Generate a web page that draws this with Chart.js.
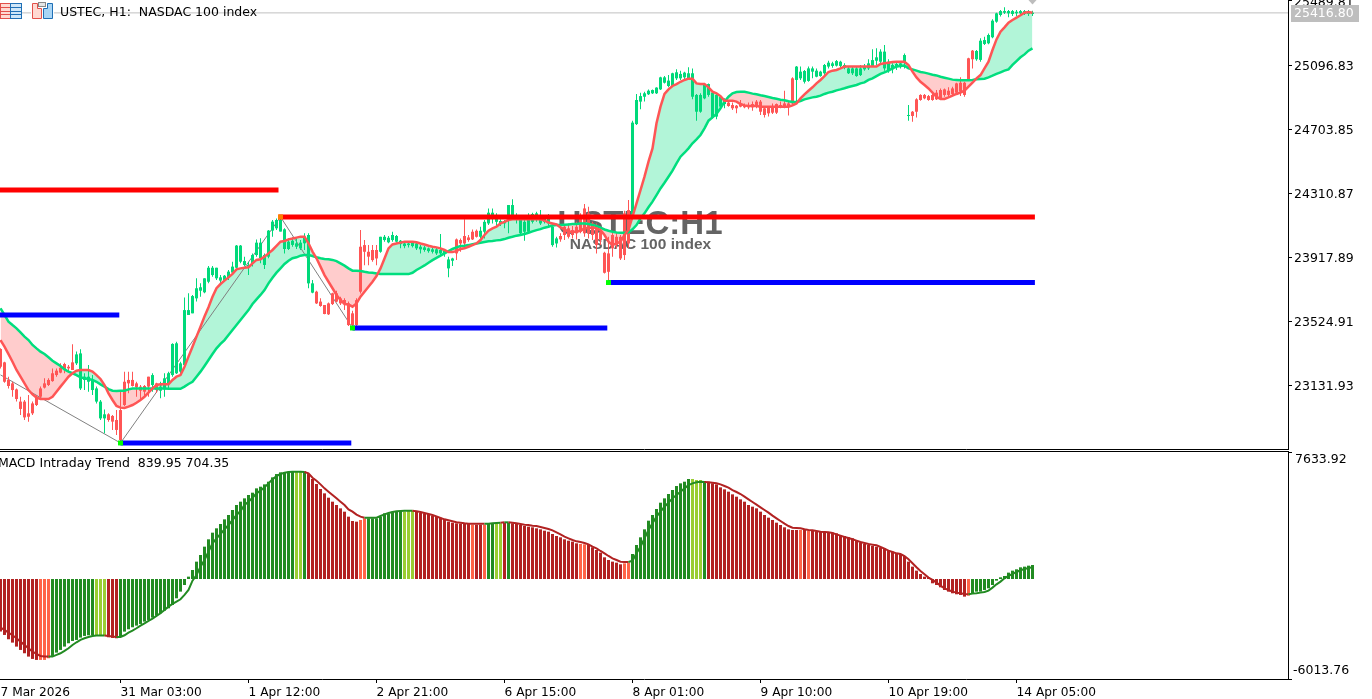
<!DOCTYPE html>
<html><head><meta charset="utf-8"><title>USTEC H1</title>
<script src="https://cdn.jsdelivr.net/npm/chart.js@4"></script>
<style>
html,body{margin:0;padding:0;background:#fff;overflow:hidden;width:1372px;height:699px}
#wrapA{position:absolute;left:0;top:0;width:1372px;height:450px}
#wrapB{position:absolute;left:0;top:451px;width:1372px;height:248px}
canvas{display:block}
</style></head><body>
<div id="wrapA"><canvas id="price" width="1372" height="450"></canvas></div>
<div id="wrapB"><canvas id="macd" width="1372" height="248"></canvas></div>
<script>
const FONT='"DejaVu Sans"';
const priceTicks=[25489.81,25096.83,24703.85,24310.87,23917.89,23524.91,23131.93];
const macdTicks=[7633.92,-6013.76];
const lastPrice=25416.80;
const timeTickBars=[0,30,62,94,126,158,190,222,254];
const timeTickLabels=['7 Mar 2026','31 Mar 03:00','1 Apr 12:00','2 Apr 21:00','6 Apr 15:00','8 Apr 01:00','9 Apr 10:00','10 Apr 19:00','14 Apr 05:00'];

const bodyHigh=[23353,23271,23163,23142,23105,23030,23030,22958,23019,23060,
23111,23142,23163,23204,23220,23238,23261,23244,23271,23320,
23326,23183,23183,23163,23111,23030,22952,22952,22942,22917,
22978,23152,23163,23163,23142,23122,23126,23183,23193,23142,
23122,23173,23204,23384,23388,23265,23592,23592,23678,23726,
23732,23787,23852,23852,23852,23793,23803,23828,23859,23988,
23988,23893,23869,23930,24006,24006,23930,24080,24135,24145,
24145,24088,24012,24018,24002,24006,24043,24053,23756,23705,
23644,23623,23633,23695,23695,23664,23654,23633,
23572,23653,23981,23991,23950,23961,23961,24042,24042,24036,24053,24047,
24018,24001,24001,24006,24001,23981,23977,23971,23965,23965,
23961,23956,23903,23909,24026,24022,24047,24038,24073,24079,
24079,24134,24190,24190,24175,24139,24134,24237,24237,24169,
24145,24134,24165,24182,24186,24155,24155,24175,24104,24032,
24047,24104,24094,24083,24104,24165,24216,24186,24124,24094,
24073,23944,23940,24053,24042,24042,24186,24206,24743,24882,
24906,24923,24939,24943,24958,25021,25021,25001,25046,25052,
25042,25050,25046,25046,24913,24913,24974,24980,24927,24913,
24902,24878,24866,24851,24847,24857,24851,24851,24857,24872,
24872,24831,24841,24841,24857,24851,24861,24861,25015,25087,
25056,25060,25076,25076,25062,25056,25097,25111,25107,25121,
25117,25097,25076,25076,25076,25076,25091,25107,25127,25144,
25179,25179,25117,25097,25103,25107,25158,24790,24810,24886,
24913,24913,24906,24913,24927,24943,24947,24939,24953,24984,
24988,24988,25138,25185,25183,25246,25250,25281,25369,25414,
25428,25428,25428,25428,25424,25428,25428,25424,25418];
const bodyLow=[23244,23152,23126,23101,23046,22985,22933,22937,22958,23009,
23060,23116,23132,23156,23193,23208,23224,23234,23224,23265,
23111,23163,23152,23101,23030,22927,22927,22917,22907,22856,
22794,23009,23142,23126,23118,23097,23091,23122,23132,23101,
23097,23105,23142,23193,23204,23214,23255,23562,23572,23664,
23711,23701,23766,23807,23787,23773,23777,23793,23822,23852,
23889,23869,23859,23879,23930,23910,23869,23920,24080,24094,
24074,23967,23967,23992,23981,23971,24002,23756,23699,23633,
23617,23568,23566,23629,23644,23633,23629,23500,
23500,23500,23705,23950,23920,23899,23909,23950,24022,24008,24022,24012,
23997,23985,23991,23985,23971,23965,23961,23954,23950,23940,
23940,23936,23848,23895,23940,24001,24001,24022,24026,24042,
24042,24073,24124,24175,24134,24120,24124,24165,24155,24145,
24063,24073,24073,24134,24155,24124,24134,24124,23991,24001,
24026,24053,24042,24053,24063,24073,24063,24063,24053,23991,
24022,23821,23827,23971,23991,23909,23930,24001,24180,24734,
24872,24902,24917,24923,24923,24947,24988,24968,24968,25015,
25015,25021,25015,24902,24810,24810,24892,24913,24775,24780,
24841,24857,24845,24831,24831,24841,24837,24837,24837,24841,
24810,24790,24800,24804,24804,24837,24837,24841,24861,25005,
25015,24994,24999,25056,25025,25029,25046,25087,25091,25093,
25091,25080,25046,25046,25029,25035,25070,25076,25091,25123,
25117,25076,25066,25070,25083,25087,25111,24784,24784,24810,
24882,24892,24882,24882,24886,24892,24913,24913,24919,24927,
24933,24913,25005,25132,25132,25128,25226,25230,25267,25363,
25404,25418,25414,25410,25414,25414,25410,25410,25410];
const wickHigh=[23357,23275,23183,23152,23111,23060,23040,23070,23030,23070,
23122,23173,23173,23234,23234,23265,23269,23255,23382,23337,
23351,23204,23255,23193,23122,23040,22982,22958,22948,22978,
23101,23214,23214,23214,23152,23132,23132,23183,23204,23146,
23152,23204,23214,23388,23398,23275,23670,23695,23685,23787,
23756,23787,23863,23863,23852,23807,23807,23838,23889,23992,
23992,23920,23889,23940,24026,24033,23940,24084,24145,24155,
24166,24094,24033,24039,24033,24022,24063,24063,23777,23711,
23664,23623,23638,23699,23711,23674,23664,23644,
23588,23664,24083,24022,23991,23991,23991,24042,24053,24047,24073,24053,
24022,24012,24012,24012,24006,23991,23985,23977,23981,23977,
24059,23961,23920,23913,24032,24032,24149,24053,24087,24087,
24104,24145,24216,24216,24186,24149,24145,24237,24272,24186,
24155,24145,24186,24190,24196,24206,24165,24182,24124,24042,
24063,24114,24124,24108,24134,24186,24243,24227,24134,24124,
24104,23950,24042,24073,24063,24053,24202,24268,24755,24919,
24927,24933,24947,24947,24960,25025,25029,25035,25050,25070,
25062,25056,25083,25076,24919,24923,24984,24984,24933,24919,
24913,24892,24872,24866,24851,24882,24861,24866,24872,24882,
24882,24841,24845,24861,24861,24872,24939,24872,25021,25091,
25087,25066,25087,25087,25076,25062,25103,25123,25117,25127,
25123,25107,25091,25087,25091,25097,25103,25132,25193,25199,
25193,25220,25132,25107,25111,25117,25168,24851,24814,24892,
24917,24919,24913,24919,24943,24953,24953,24960,24964,24988,
25021,24994,25142,25189,25189,25261,25271,25291,25377,25418,
25435,25451,25435,25435,25435,25435,25435,25435,25430];
const wickLow=[23234,23146,23111,23060,23030,22948,22917,22907,22948,23003,
23050,23111,23126,23152,23183,23204,23204,23214,23224,23255,
23101,23101,23091,23070,23019,22917,22835,22907,22856,22825,
22784,23003,23081,23122,23060,23040,23060,23060,23091,23085,
23050,23060,23111,23183,23200,23204,23244,23562,23572,23644,
23674,23695,23756,23797,23777,23756,23766,23777,23814,23848,
23879,23859,23807,23859,23920,23879,23844,23910,24043,24084,
24074,23940,23961,23981,23967,23961,23961,23726,23695,23629,
23613,23566,23562,23623,23640,23623,23592,23494,
23482,23494,23694,23868,23868,23889,23868,23944,24012,24002,24012,24006,
23971,23971,23977,23977,23961,23940,23950,23944,23940,23930,
23924,23920,23793,23862,23899,23950,23981,24012,24022,24038,
24032,24032,24114,24124,24104,24108,24094,24063,24145,24124,
24053,24018,24063,24124,24134,24114,24124,24104,23981,23977,
24012,24022,24032,24032,24026,24063,24042,24032,24022,23940,
23991,23817,23766,23920,23971,23899,23899,23971,24170,24728,
24825,24872,24913,24919,24919,24943,24984,24960,24964,25005,
25005,25009,25005,24886,24755,24804,24886,24902,24769,24763,
24831,24831,24841,24820,24800,24837,24831,24825,24816,24831,
24790,24775,24780,24796,24796,24831,24831,24786,24857,24872,
25005,24984,24994,25015,25021,25025,25035,25076,25080,25087,
25083,25070,25042,25035,25025,25029,25062,25066,25087,25097,
25097,25062,25050,25046,25066,25076,25076,24755,24749,24775,
24878,24886,24878,24878,24882,24886,24902,24902,24913,24913,
24906,24902,25001,25076,25123,25117,25220,25224,25261,25357,
25394,25410,25390,25398,25398,25410,25404,25398,25398];
const candleKey='R'.repeat(19)+'G'.repeat(8)+'R'.repeat(11)+'G'+'R'+'G'.repeat(39)+'R'.repeat(16)+'G'.repeat(19)+'R'.repeat(6)+'G'.repeat(20)+'R'.repeat(18)+'G'.repeat(24)+'R'.repeat(17)+'G'.repeat(29)+'R'.repeat(16)+'G'.repeat(15);

const fastMA=[23408,23367,23322,23275,23224,23183,23142,23101,23075,23054,
23046,23046,23046,23060,23091,23122,23152,23183,23204,23220,
23224,23224,23224,23214,23193,23169,23132,23081,23040,23003,
22993,22991,22999,23009,23023,23040,23060,23085,23111,23132,
23136,23136,23136,23163,23183,23193,23244,23306,23367,23429,
23490,23552,23609,23674,23726,23752,23773,23793,23814,23842,
23848,23852,23855,23879,23900,23904,23920,23940,23961,23986,
24012,24016,24026,24031,24037,24043,24043,24002,23951,23910,
23859,23807,23766,23726,23685,23654,23629,23627,
23613,23633,23674,23705,23735,23766,23801,23848,23909,23971,23995,24001,
24006,24012,24012,24012,24008,24001,23995,23987,23981,23977,
23971,23961,23948,23948,23954,23967,23971,23981,23991,24001,
24022,24053,24079,24094,24104,24124,24134,24145,24149,24149,
24149,24149,24149,24149,24149,24149,24141,24130,24124,24118,
24100,24087,24073,24073,24073,24079,24094,24094,24100,24094,
24083,24053,24012,23991,24001,24012,24053,24084,24165,24247,
24329,24411,24503,24585,24739,24841,24919,24947,24968,24980,
24994,25005,25013,25013,24984,24980,24980,24960,24933,24923,
24906,24878,24878,24878,24872,24857,24849,24845,24845,24845,
24841,24841,24841,24841,24841,24841,24841,24841,24849,24861,
24892,24917,24939,24960,24984,25005,25029,25054,25062,25066,
25076,25087,25087,25087,25087,25087,25087,25087,25087,25087,
25103,25107,25111,25115,25117,25117,25117,25097,25056,25021,
24994,24974,24953,24927,24902,24888,24888,24898,24909,24919,
24927,24939,24964,24988,25015,25035,25076,25117,25189,25254,
25301,25328,25357,25373,25388,25402,25418,25422,25418];
const slowMA=[23603,23562,23521,23500,23480,23455,23429,23408,23378,23357,
23337,23322,23302,23281,23265,23249,23228,23214,23204,23193,
23179,23173,23169,23163,23152,23136,23122,23107,23097,23095,
23097,23097,23105,23111,23111,23111,23111,23111,23111,23111,
23111,23111,23109,23109,23109,23109,23122,23138,23152,23183,
23214,23249,23285,23322,23357,23384,23408,23439,23470,23500,
23531,23562,23592,23629,23658,23685,23715,23756,23791,23822,
23848,23875,23895,23910,23916,23926,23930,23930,23924,23916,
23910,23906,23904,23900,23893,23879,23865,23848,
23834,23834,23832,23827,23823,23821,23817,23813,23813,23813,23813,23813,
23813,23813,23813,23821,23838,23852,23866,23883,23899,23913,
23926,23940,23954,23967,23977,23985,23987,23991,23997,24001,
24006,24010,24014,24016,24020,24022,24028,24036,24042,24049,
24053,24059,24067,24075,24083,24089,24098,24104,24112,24114,
24114,24116,24118,24120,24120,24124,24124,24120,24114,24108,
24098,24087,24079,24073,24069,24067,24067,24069,24088,24114,
24155,24186,24223,24258,24298,24339,24374,24411,24448,24493,
24534,24558,24585,24616,24640,24667,24708,24755,24775,24796,
24831,24872,24902,24923,24931,24933,24933,24927,24921,24917,
24911,24906,24900,24894,24890,24884,24880,24874,24870,24870,
24876,24886,24892,24898,24902,24909,24919,24927,24933,24941,
24947,24954,24962,24968,24974,24984,24990,25005,25015,25029,
25042,25052,25062,25076,25087,25091,25093,25076,25070,25062,
25054,25050,25044,25037,25033,25025,25019,25013,25007,25005,
25003,25003,25003,25005,25009,25011,25013,25021,25031,25042,
25052,25062,25070,25097,25121,25144,25162,25185,25199];

const redLevel1=24329, redLevel2=24164, blueLevel1=23562, blueLevel2=22776, blueLevel3=23482, blueLevel4=23761;
const zigzagBars=[0,30,70,88];
const zigzagValues=[23194,22776,24164,23482];
const lowMarkerBars=[30,88,152];
const lowMarkerValues=[22776,23482,23761];
const highMarkerBars=[70];
const highMarkerValues=[24164];

const macdHist=[-3165,-3365,-3625,-3826,-4066,-4266,-4467,-4667,-4807,-4867,
-4867,-4867,-4767,-4627,-4427,-4266,-4066,-3866,-3726,-3665,
-3525,-3425,-3385,-3385,-3385,-3385,-3425,-3505,-3545,-3565,
-3465,-3165,-3025,-2904,-2804,-2704,-2564,-2464,-2323,-2203,
-2063,-1903,-1763,-1562,-1162,-761,-361,140,541,1042,
1442,1943,2384,2784,3045,3305,3585,3846,4146,4447,
4647,4847,5048,5188,5448,5548,5689,5849,6109,6309,
6410,6430,6450,6470,6490,6490,6470,6309,6009,5709,
5408,5148,4887,4647,4447,4246,4046,3746,
3485,3445,3545,3645,3645,3645,3645,3746,3946,3946,4046,4046,
4086,4046,4086,4106,4086,3986,3946,3906,3806,3746,
3686,3545,3445,3385,3345,3325,3305,3305,3265,3265,
3265,3265,3305,3305,3345,3345,3385,3385,3345,3305,
3245,3185,3145,3105,3045,2984,2904,2844,2704,2584,
2504,2384,2303,2243,2143,2103,2083,2043,1903,1743,
1582,1302,1142,1042,981,881,941,981,1502,2043,
2504,2984,3505,3846,4206,4587,4847,5108,5348,5588,
5749,5849,6009,6009,5949,5949,5889,5849,5749,5689,
5508,5388,5248,5088,4947,4787,4647,4447,4347,4246,
4046,3846,3686,3545,3385,3245,3105,2984,2944,2944,
2944,2944,2904,2884,2864,2844,2844,2804,2784,2744,
2644,2584,2504,2444,2303,2203,2103,2043,1983,1943,
1883,1843,1703,1642,1542,1502,1382,1042,741,501,
300,140,100,-260,-361,-501,-661,-761,-861,-921,
-961,-1062,-1002,-861,-761,-761,-661,-561,-361,-100,
100,180,381,501,581,701,741,801,839.95];
const macdSignal=[-2924,-3065,-3225,-3385,-3565,-3766,-3966,-4166,-4367,-4507,
-4627,-4667,-4667,-4667,-4567,-4467,-4326,-4166,-3966,-3806,
-3665,-3565,-3485,-3425,-3405,-3405,-3405,-3425,-3465,-3485,
-3485,-3385,-3225,-3105,-2964,-2804,-2664,-2524,-2384,-2223,
-2063,-1863,-1662,-1502,-1362,-1222,-961,-661,-100,240,
741,1142,1642,2143,2444,2704,2984,3245,3545,3846,
4086,4447,4647,4887,5148,5308,5508,5749,5989,6189,
6309,6390,6430,6450,6450,6450,6430,6350,6089,5909,
5689,5448,5248,5048,4847,4647,4447,4186,
4046,3866,3746,3686,3686,3686,3686,3786,3886,3966,4026,4066,
4086,4106,4106,4106,4066,4026,3966,3906,3846,3766,
3665,3585,3525,3465,3405,3385,3345,3325,3325,3325,
3325,3325,3325,3345,3365,3385,3405,3405,3385,3345,
3305,3265,3245,3205,3185,3125,3065,3005,2924,2804,
2684,2544,2444,2344,2263,2223,2163,2083,1943,1843,
1683,1542,1382,1242,1142,1042,1022,1022,1102,1542,
1943,2444,2944,3345,3746,4046,4347,4587,4847,5048,
5248,5448,5648,5749,5809,5849,5829,5809,5789,5749,
5689,5588,5488,5348,5228,5108,4947,4787,4627,4467,
4306,4146,3986,3806,3645,3485,3325,3185,3085,3065,
3045,2984,2944,2924,2884,2844,2824,2804,2764,2684,
2604,2524,2464,2384,2303,2223,2163,2103,2063,2023,
1923,1823,1703,1622,1542,1502,1382,1182,941,701,
481,280,80,-60,-220,-401,-561,-661,-761,-821,
-861,-901,-921,-881,-861,-821,-781,-701,-521,-320,
-160,40,180,300,421,521,601,661,704.35];
const histKey='R'.repeat(10)+'T'.repeat(3)+'G'.repeat(11)+'Y'.repeat(3)+'R'.repeat(3)+'G'.repeat(44)+'Y'.repeat(2)+'G'+'R'.repeat(13)+'T'.repeat(2)+'G'.repeat(9)+'Y'.repeat(3)+'R'.repeat(14)+'T'+'R'.repeat(2)+'T'+'G'.repeat(2)+'Y'.repeat(2)+'R'+'G'+'R'.repeat(17)+'T'.repeat(2)+'R'.repeat(9)+'T'.repeat(2)+'G'.repeat(15)+'Y'.repeat(3)+'G'+'R'.repeat(23)+'T'+'R'+'T'+'R'.repeat(39)+'T'+'G'.repeat(16);

const BARS=[...Array(bodyHigh.length).keys()];
const COL={up:'#00D97A',down:'#FF5555',fillUp:'#B2F5D8',fillDown:'#FFCCCC',lvlR:'#FF0000',lvlB:'#0000FF'};
const HIST={R:'#B22222',T:'#FF6347',G:'#228B22',Y:'#9ACD32'};
const XMIN=-0.125, XMAX=321.875;
const candleColors=BARS.map(i=>candleKey[i]==='R'?COL.down:COL.up);
const xy=(xs,ys)=>xs.map((x,k)=>({x,y:ys[k]}));
const lvl=(a,b,v)=>[{x:a,y:v},{x:b,y:v}];
function levelDs(a,b,v,c){return {type:'line',data:lvl(a,b,v),borderColor:c,borderWidth:5,pointRadius:0,order:2,borderCapStyle:'butt',fill:false};}
const xAxisHidden={type:'linear',min:XMIN,max:XMAX,offset:false,bounds:'data',
  ticks:{display:false},grid:{display:false,offset:false},
  border:{display:true,color:'#000',width:1},afterFit(s){s.height=1;}};

function drawIcons(ctx){
  ctx.save();
  ctx.fillStyle='#fff';ctx.fillRect(0,3,22,16);
  ctx.fillStyle='#FFD9D2';ctx.fillRect(1,4,9,14);
  ctx.fillStyle='#CFE6F8';ctx.fillRect(11,4,10,14);
  ctx.strokeStyle='#E2504A';ctx.lineWidth=1;
  ctx.strokeRect(0.5,3.5,10,15);
  for(const y of [7.5,11.5,14.5]){ctx.beginPath();ctx.moveTo(1,y);ctx.lineTo(10,y);ctx.stroke();}
  ctx.strokeStyle='#1F6FB5';ctx.strokeRect(10.5,3.5,11,15);
  for(const y of [7.5,11.5,14.5]){ctx.beginPath();ctx.moveTo(11,y);ctx.lineTo(21,y);ctx.stroke();}
  ctx.fillStyle='#fff';ctx.fillRect(31,3,23,16);
  ctx.fillStyle='#FFD9D2';ctx.strokeStyle='#E2504A';
  ctx.beginPath();ctx.moveTo(32.5,3.5);ctx.lineTo(37.5,3.5);ctx.lineTo(37.5,8.5);ctx.lineTo(41.5,8.5);ctx.lineTo(41.5,18.5);ctx.lineTo(32.5,18.5);ctx.closePath();ctx.fill();ctx.stroke();
  ctx.fillStyle='#A9D5F5';ctx.strokeStyle='#1F6FB5';
  ctx.beginPath();ctx.moveTo(47.5,3.5);ctx.lineTo(52.5,3.5);ctx.lineTo(52.5,18.5);ctx.lineTo(43.5,18.5);ctx.lineTo(43.5,8.5);ctx.lineTo(47.5,8.5);ctx.closePath();ctx.fill();ctx.stroke();
  ctx.fillStyle='#E6E6E6';ctx.strokeStyle='#888';ctx.fillRect(38.5,2.5,7,4);ctx.strokeRect(38.5,2.5,7,4);
  ctx.restore();
}
const priceDeco={id:'priceDeco',
  beforeDraw(c){const x=c.ctx;x.save();x.fillStyle='#646464';x.textAlign='center';x.textBaseline='middle';
    x.font='bold 33px "Liberation Sans"';x.fillText('USTEC:H1',640,225);
    x.font='bold 15.5px "Liberation Sans"';x.fillText('NASDAC 100 index',640.5,244.5);x.restore();},
  afterDraw(c){const x=c.ctx;x.save();
    drawIcons(x);
    x.textAlign='left';x.textBaseline='middle';x.font='12.5px '+FONT;
    x.fillStyle='#000';
    x.fillText('USTEC, H1:  NASDAC 100 index',60,12.5);
    x.fillStyle='#BEBEBE';x.fillRect(1291,5,68,17);
    x.fillStyle='#fff';x.fillText(lastPrice.toFixed(2),1294,14);
    x.fillStyle='#BDBDBD';x.beginPath();x.moveTo(1027.5,-1);x.lineTo(1037.5,-1);x.lineTo(1032.5,4.5);x.closePath();x.fill();
    x.restore();}
};
new Chart(document.getElementById('price'),{
  type:'bar',
  plugins:[priceDeco],
  data:{datasets:[
    {type:'line',label:'last',data:lvl(XMIN,XMAX,lastPrice),borderColor:'#C0C0C0',borderWidth:1,pointRadius:0,order:9,fill:false},
    {type:'bar',label:'wick',data:xy(BARS,BARS.map(i=>[wickLow[i],wickHigh[i]])),backgroundColor:candleColors,barThickness:1,grouped:false,inflateAmount:0,order:6},
    {type:'bar',label:'body',data:xy(BARS,BARS.map(i=>[bodyLow[i],bodyHigh[i]])),backgroundColor:candleColors,barThickness:3,grouped:false,inflateAmount:0,order:5},
    {type:'line',label:'fast',data:xy(BARS,fastMA),borderColor:COL.down,borderWidth:2.5,pointRadius:0,order:3,
      fill:{target:4,above:COL.fillUp,below:COL.fillDown}},
    {type:'line',label:'slow',data:xy(BARS,slowMA),borderColor:'#00DE7E',borderWidth:2.5,pointRadius:0,order:4,fill:false},
    {type:'line',label:'zigzag',data:xy(zigzagBars,zigzagValues),borderColor:'#808080',borderWidth:1,pointRadius:0,order:7,fill:false},
    levelDs(XMIN,69.5,redLevel1,COL.lvlR),levelDs(69.5,258.6,redLevel2,COL.lvlR),
    levelDs(XMIN,29.7,blueLevel1,COL.lvlB),levelDs(30,87.7,blueLevel2,COL.lvlB),
    levelDs(88,151.7,blueLevel3,COL.lvlB),levelDs(152,258.6,blueLevel4,COL.lvlB),
    {type:'line',label:'lows',data:xy(lowMarkerBars,lowMarkerValues),showLine:false,pointStyle:'rect',pointRadius:3.5,pointBackgroundColor:'#00FF00',pointBorderWidth:0,order:1,fill:false},
    {type:'line',label:'highs',data:xy(highMarkerBars,highMarkerValues),showLine:false,pointStyle:'rect',pointRadius:3.5,pointBackgroundColor:'#FF8000',pointBorderWidth:0,order:1,fill:false}
  ]},
  options:{responsive:false,animation:false,events:[],maintainAspectRatio:false,
    layout:{padding:0,autoPadding:false},
    plugins:{legend:{display:false},tooltip:{enabled:false},title:{display:false},filler:{drawTime:'beforeDatasetsDraw',propagate:false}},
    scales:{
      x:xAxisHidden,
      y:{type:'linear',position:'right',min:22739.0,max:25495.95,bounds:'data',
        afterBuildTicks(s){s.ticks=priceTicks.map(v=>({value:v}));},
        afterFit(s){s.width=84;s.paddingTop=0;s.paddingBottom=0;},
        ticks:{callback:v=>Number(v).toFixed(2),font:{family:FONT,size:12.5},color:'#000',padding:2,labelOffset:2,autoSkip:false,maxRotation:0},
        grid:{drawOnChartArea:false,drawTicks:true,tickLength:4,tickColor:'#000',tickWidth:1},
        border:{display:true,color:'#000',width:1}}
    }
  }
});

const macdDeco={id:'macdDeco',
  afterDraw(c){const x=c.ctx;const s=c.scales.y;x.save();
    x.fillStyle='#000';x.fillRect(0,0,1289,1);
    x.textBaseline='middle';x.textAlign='left';x.font='12.5px '+FONT;
    x.fillText(macdTicks[0].toFixed(2),1295,s.getPixelForValue(macdTicks[0])+8);
    x.fillText(macdTicks[1].toFixed(2),1293,s.getPixelForValue(macdTicks[1])-8);
    x.fillText('MACD Intraday Trend  '+macdHist[macdHist.length-1].toFixed(2)+' '+macdSignal[macdSignal.length-1].toFixed(2),-2,13);
    x.restore();}
};
new Chart(document.getElementById('macd'),{
  type:'bar',
  plugins:[macdDeco],
  data:{datasets:[
    {type:'line',label:'signal',data:xy(BARS,macdSignal),borderWidth:2,pointRadius:0,order:1,fill:false,borderColor:HIST.R,
      segment:{borderColor:ctx=>{const k=histKey[ctx.p1DataIndex];return (k==='G'||k==='Y')?HIST.G:HIST.R;}}},
    {type:'bar',label:'hist',data:xy(BARS,macdHist),backgroundColor:BARS.map(i=>HIST[histKey[i]]),barThickness:3,grouped:false,inflateAmount:0,order:2}
  ]},
  options:{responsive:false,animation:false,events:[],maintainAspectRatio:false,
    layout:{padding:{top:1},autoPadding:false},
    plugins:{legend:{display:false},tooltip:{enabled:false}},
    scales:{
      x:{type:'linear',min:XMIN,max:XMAX,offset:false,bounds:'data',
        afterBuildTicks(s){s.ticks=timeTickBars.map(v=>({value:v}));},
        afterFit(s){s.height=20;s.paddingLeft=0;s.paddingRight=0;},
        ticks:{callback:(v,i)=>timeTickLabels[i],align:'start',font:{family:FONT,size:12.2},color:'#000',padding:3,autoSkip:false,maxRotation:0,minRotation:0,includeBounds:false},
        grid:{drawOnChartArea:false,offset:false,drawTicks:true,tickLength:4,tickColor:c=>c.index===0?'rgba(0,0,0,0)':'#000'},
        border:{display:true,color:'#000',width:1}},
      y:{type:'linear',position:'right',min:macdTicks[1],max:macdTicks[0],bounds:'data',
        afterBuildTicks(s){s.ticks=macdTicks.map(v=>({value:v}));},
        afterFit(s){s.width=84;},
        ticks:{display:false},
        grid:{drawOnChartArea:false,drawTicks:true,tickLength:4,tickColor:'#000'},
        border:{display:true,color:'#000',width:1}}
    }
  }
});
</script>
</body></html>
